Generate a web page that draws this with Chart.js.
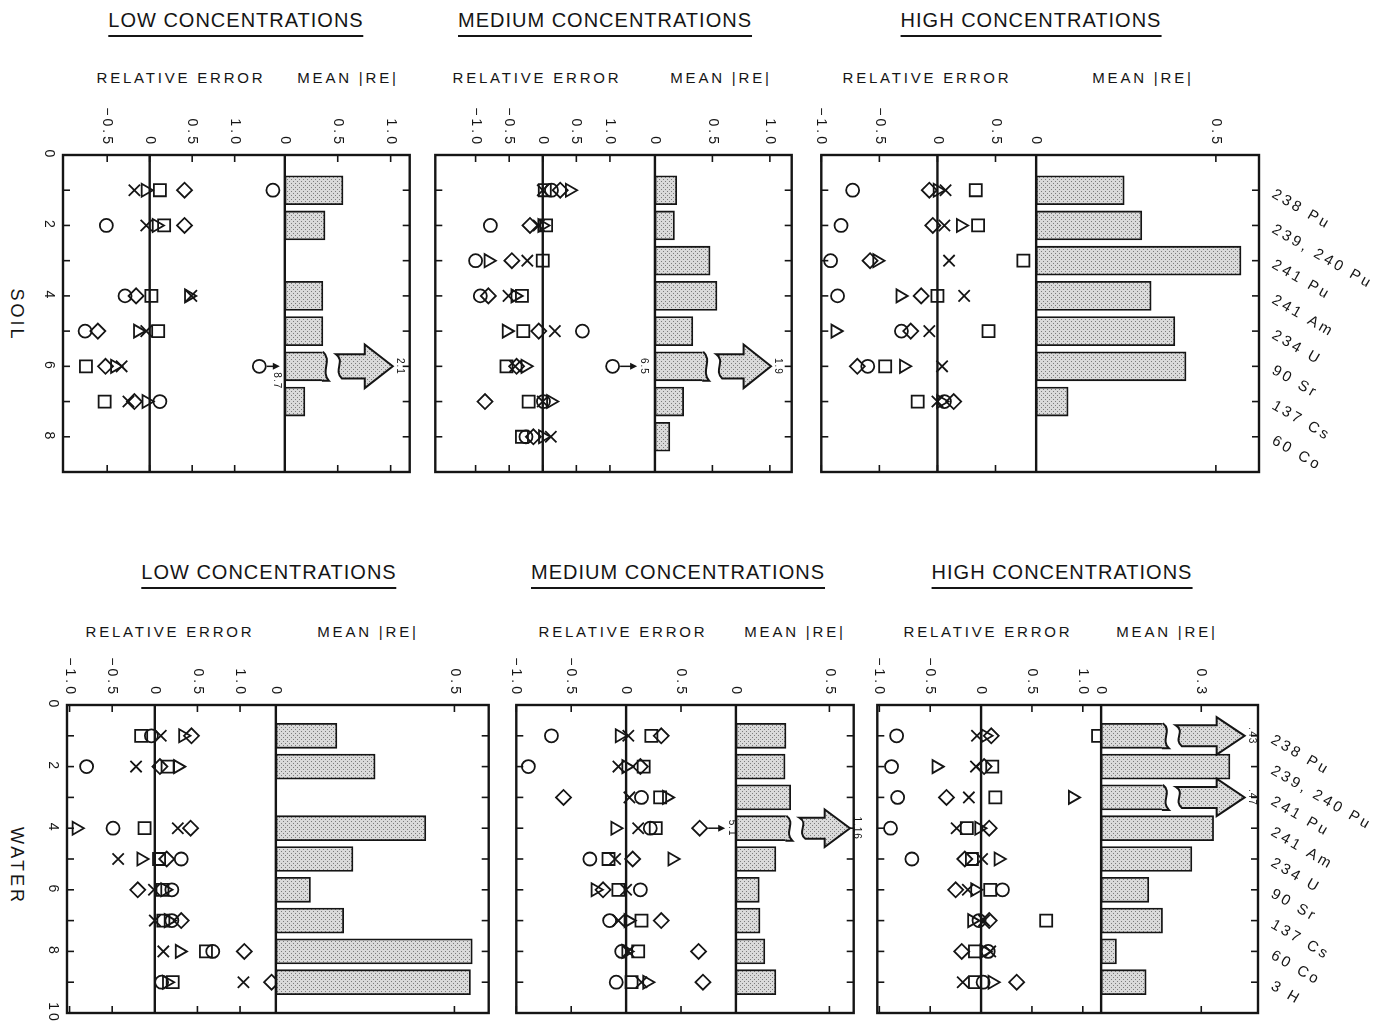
<!DOCTYPE html>
<html>
<head>
<meta charset="utf-8">
<title>Relative error of laboratory results</title>
<script src="https://cdn.jsdelivr.net/npm/chart.js@4.4.1/dist/chart.umd.min.js"></script>
<style>
  body { margin: 0; background: #fff; }
  #wrap { position: relative; width: 1387px; height: 1030px; overflow: hidden;
          font-family: "Liberation Sans", Arial, sans-serif; color: #151515; }
  #wrap canvas { position: absolute; }
  .title { position: absolute; transform: translateX(-50%); font-size: 20px; letter-spacing: 1px;
           line-height: 22px; padding-bottom: 4px; border-bottom: 2px solid #151515; white-space: nowrap; }
  .sub { position: absolute; transform: translate(-50%, -50%); font-size: 15px; letter-spacing: 2.8px; white-space: nowrap; }
  .side { position: absolute; transform: translate(-50%, -50%) rotate(90deg); font-size: 18px;
          letter-spacing: 3px; white-space: nowrap; }
</style>
</head>
<body>
<div id="wrap">
  <div class="title" style="left:236px;top:9px">LOW CONCENTRATIONS</div>
  <div class="title" style="left:605px;top:9px">MEDIUM CONCENTRATIONS</div>
  <div class="title" style="left:1031px;top:9px">HIGH CONCENTRATIONS</div>
  <div class="title" style="left:269px;top:561px">LOW CONCENTRATIONS</div>
  <div class="title" style="left:678px;top:561px">MEDIUM CONCENTRATIONS</div>
  <div class="title" style="left:1062px;top:561px">HIGH CONCENTRATIONS</div>

  <div class="sub" style="left:181px;top:77px">RELATIVE ERROR</div>
  <div class="sub" style="left:348px;top:77px">MEAN |RE|</div>
  <div class="sub" style="left:537px;top:77px">RELATIVE ERROR</div>
  <div class="sub" style="left:721px;top:77px">MEAN |RE|</div>
  <div class="sub" style="left:927px;top:77px">RELATIVE ERROR</div>
  <div class="sub" style="left:1143px;top:77px">MEAN |RE|</div>
  <div class="sub" style="left:170px;top:631px">RELATIVE ERROR</div>
  <div class="sub" style="left:368px;top:631px">MEAN |RE|</div>
  <div class="sub" style="left:623px;top:631px">RELATIVE ERROR</div>
  <div class="sub" style="left:795px;top:631px">MEAN |RE|</div>
  <div class="sub" style="left:988px;top:631px">RELATIVE ERROR</div>
  <div class="sub" style="left:1167px;top:631px">MEAN |RE|</div>

  <div class="side" style="left:16px;top:315px">SOIL</div>
  <div class="side" style="left:16px;top:866px">WATER</div>
</div>
<script>
const INK = '#151515';
const FONT = '"Liberation Sans", Arial, sans-serif';

// row labels
const soilNuclides = ['238 Pu', '239, 240 Pu', '241 Pu', '241 Am', '234 U', '90 Sr', '137 Cs', '60 Co'];
const waterNuclides = ['238 Pu', '239, 240 Pu', '241 Pu', '241 Am', '234 U', '90 Sr', '137 Cs', '60 Co', '3 H'];
const soilRowTicks = [0, 2, 4, 6, 8];
const waterRowTicks = [0, 2, 4, 6, 8, 10];

// SOIL, low concentrations
const soilLowReTicks = [-0.5, 0, 0.5, 1.0];
const soilLowMeanTicks = [0, 0.5, 1.0];
const soilLowMean = [0.55, 0.38, null, 0.36, 0.36, 2.1, 0.19, null];
const soilLowCircle = [1.45, -0.51, null, -0.29, -0.76, 8.7, 0.12, null];
const soilLowDiamond = [0.41, 0.41, null, -0.16, -0.61, -0.52, -0.18, null];
const soilLowCross = [-0.18, -0.04, null, 0.49, -0.04, -0.33, -0.25, null];
const soilLowSquare = [0.12, 0.17, null, 0.02, 0.10, -0.75, -0.53, null];
const soilLowTriangle = [-0.05, 0.08, null, 0.46, -0.14, -0.41, -0.04, null];

// SOIL, medium concentrations
const soilMedReTicks = [-1.0, -0.5, 0, 0.5, 1.0];
const soilMedMeanTicks = [0, 0.5, 1.0];
const soilMedMean = [0.19, 0.17, 0.48, 0.54, 0.33, 1.9, 0.25, 0.13];
const soilMedCircle = [0.13, -0.78, -1.0, -0.93, 0.59, 6.5, 0.01, -0.25];
const soilMedDiamond = [0.26, -0.19, -0.46, -0.81, -0.06, -0.39, -0.86, -0.14];
const soilMedCross = [0.0, -0.06, -0.23, -0.51, 0.18, -0.41, 0.0, 0.12];
const soilMedSquare = [0.03, 0.05, 0.0, -0.31, -0.29, -0.54, -0.21, -0.31];
const soilMedTriangle = [0.40, -0.01, -0.81, -0.41, -0.54, -0.26, 0.12, 0.0];

// SOIL, high concentrations
const soilHighReTicks = [-1.0, -0.5, 0, 0.5];
const soilHighMeanTicks = [0, 0.5];
const soilHighMean = [0.245, 0.294, 0.57, 0.32, 0.386, 0.417, 0.089, null];
const soilHighCircle = [-0.73, -0.83, -0.92, -0.86, -0.31, -0.60, 0.06, null];
const soilHighDiamond = [-0.07, -0.04, -0.58, -0.14, -0.23, -0.69, 0.14, null];
const soilHighCross = [0.07, 0.06, 0.10, 0.23, -0.07, 0.04, 0.0, null];
const soilHighSquare = [0.33, 0.35, 0.74, 0.0, 0.44, -0.45, -0.17, null];
const soilHighTriangle = [0.0, 0.20, -0.52, -0.32, -0.88, -0.29, 0.03, null];

// WATER, low concentrations
const waterLowReTicks = [-1.0, -0.5, 0, 0.5, 1.0];
const waterLowMeanTicks = [0, 0.5];
const waterLowMean = [0.171, 0.278, null, 0.42, 0.216, 0.097, 0.19, 0.55, 0.545];
const waterLowCircle = [-0.04, -0.80, null, -0.49, 0.31, 0.20, 0.20, 0.68, 0.08];
const waterLowDiamond = [0.43, 0.06, null, 0.42, 0.14, -0.20, 0.31, 1.05, 1.37];
const waterLowCross = [0.07, -0.22, null, 0.27, -0.43, -0.01, 0.0, 0.10, 1.04];
const waterLowSquare = [-0.16, 0.15, null, -0.12, 0.05, 0.09, 0.10, 0.60, 0.21];
const waterLowTriangle = [0.33, 0.27, null, -0.92, -0.16, 0.12, 0.16, 0.29, 0.14];

// WATER, medium concentrations
const waterMedReTicks = [-1.0, -0.5, 0, 0.5];
const waterMedMeanTicks = [0, 0.5];
const waterMedMean = [0.268, 0.263, 0.293, 1.16, 0.214, 0.125, 0.129, 0.155, 0.214];
const waterMedCircle = [-0.68, -0.89, 0.14, 0.22, -0.33, 0.13, -0.15, -0.04, -0.09];
const waterMedDiamond = [0.32, 0.13, -0.57, 5.1, 0.06, -0.21, 0.32, 0.66, 0.70];
const waterMedCross = [0.02, -0.07, 0.03, 0.11, -0.10, 0.0, -0.07, 0.02, 0.14];
const waterMedSquare = [0.23, 0.16, 0.31, 0.27, -0.16, -0.07, 0.14, 0.11, 0.05];
const waterMedTriangle = [-0.06, 0.0, 0.37, -0.10, 0.42, -0.28, 0.02, 0.0, 0.19];

// WATER, high concentrations
const waterHighReTicks = [-1.0, -0.5, 0, 0.5, 1.0];
const waterHighMeanTicks = [0, 0.3];
const waterHighMean = [0.43, 0.386, 0.47, 0.337, 0.272, 0.143, 0.184, 0.046, 0.135];
const waterHighCircle = [-0.83, -0.88, -0.82, -0.89, -0.68, 0.21, -0.02, 0.07, 0.02];
const waterHighDiamond = [0.10, 0.03, -0.34, 0.08, -0.16, -0.25, 0.08, -0.19, 0.35];
const waterHighCross = [-0.04, -0.05, -0.12, -0.24, 0.01, -0.13, 0.03, 0.09, -0.18];
const waterHighSquare = [1.15, 0.11, 0.14, -0.14, -0.09, 0.09, 0.64, -0.06, -0.06];
const waterHighTriangle = [0.04, -0.44, 0.90, -0.02, 0.17, -0.06, -0.09, 0.03, 0.11];

// one symbol per laboratory
const markers = [
  { key: 'circle', style: 'circle', radius: 6.5, rotation: 0 },
  { key: 'diamond', style: 'rectRot', radius: 7.5, rotation: 0 },
  { key: 'cross', style: 'crossRot', radius: 8, rotation: 0 },
  { key: 'square', style: 'rect', radius: 8.5, rotation: 0 },
  { key: 'triangle', style: 'triangle', radius: 7.5, rotation: 90 },
];

// frame = [left, top, right, bottom] in page pixels, divider = where MEAN |RE| starts
const panels = [
  { frame: [63, 155, 410, 472], divider: 285, reRange: [-1.02, 1.59], meanRange: [0, 1.18], rows: 9,
    reTicks: soilLowReTicks, meanTicks: soilLowMeanTicks, rowTicks: soilRowTicks, nuclides: null,
    mean: soilLowMean, circle: soilLowCircle, diamond: soilLowDiamond, cross: soilLowCross,
    square: soilLowSquare, triangle: soilLowTriangle,
    offCap: 1.29, offLabelBelow: true, breakAbove: 1.18, meanCap: 0.36, arrowEnd: 1.02 },
  { frame: [435, 155, 792, 472], divider: 655, reRange: [-1.6, 1.67], meanRange: [0, 1.19], rows: 9,
    reTicks: soilMedReTicks, meanTicks: soilMedMeanTicks, rowTicks: null, nuclides: null,
    mean: soilMedMean, circle: soilMedCircle, diamond: soilMedDiamond, cross: soilMedCross,
    square: soilMedSquare, triangle: soilMedTriangle,
    offCap: 1.04, offLabelBelow: false, breakAbove: 1.19, meanCap: 0.42, arrowEnd: 1.01 },
  { frame: [821, 155, 1259, 472], divider: 1036, reRange: [-1.0, 0.85], meanRange: [0, 0.62], rows: 9,
    reTicks: soilHighReTicks, meanTicks: soilHighMeanTicks, rowTicks: null, nuclides: soilNuclides,
    mean: soilHighMean, circle: soilHighCircle, diamond: soilHighDiamond, cross: soilHighCross,
    square: soilHighSquare, triangle: soilHighTriangle,
    offCap: 0.8, offLabelBelow: false, breakAbove: 0.62, meanCap: 0.4, arrowEnd: 0.6 },
  { frame: [67, 705, 489, 1013], divider: 276, reRange: [-1.03, 1.42], meanRange: [0, 0.596], rows: 10,
    reTicks: waterLowReTicks, meanTicks: waterLowMeanTicks, rowTicks: waterRowTicks, nuclides: null,
    mean: waterLowMean, circle: waterLowCircle, diamond: waterLowDiamond, cross: waterLowCross,
    square: waterLowSquare, triangle: waterLowTriangle,
    offCap: 1.3, offLabelBelow: false, breakAbove: 0.596, meanCap: 0.4, arrowEnd: 0.58 },
  { frame: [516, 705, 854, 1013], divider: 736, reRange: [-1.0, 1.0], meanRange: [0, 0.63], rows: 10,
    reTicks: waterMedReTicks, meanTicks: waterMedMeanTicks, rowTicks: null, nuclides: null,
    mean: waterMedMean, circle: waterMedCircle, diamond: waterMedDiamond, cross: waterMedCross,
    square: waterMedSquare, triangle: waterMedTriangle,
    offCap: 0.67, offLabelBelow: false, breakAbove: 0.63, meanCap: 0.27, arrowEnd: 0.61 },
  { frame: [877, 705, 1258, 1013], divider: 1101, reRange: [-1.02, 1.18], meanRange: [0, 0.47], rows: 10,
    reTicks: waterHighReTicks, meanTicks: waterHighMeanTicks, rowTicks: null, nuclides: waterNuclides,
    mean: waterHighMean, circle: waterHighCircle, diamond: waterHighDiamond, cross: waterHighCross,
    square: waterHighSquare, triangle: waterHighTriangle,
    offCap: 1.1, offLabelBelow: false, breakAbove: 0.40, meanCap: 0.185, arrowEnd: 0.43 },
];

// dotted grey screen used for the bars
function stipple(ctx) {
  const c = document.createElement('canvas');
  c.width = 4; c.height = 4;
  const g = c.getContext('2d');
  g.fillStyle = '#dadada';
  g.fillRect(0, 0, 4, 4);
  g.fillStyle = '#7c7c7c';
  g.fillRect(0, 0, 1, 1);
  g.fillRect(2, 2, 1, 1);
  return ctx.createPattern(c, 'repeat');
}

function fmtTick(v) {
  if (v === 0) return '0';
  return (v < 0 ? '\u2212' : '') + Math.abs(v).toFixed(1);
}

function fmtBig(v) {
  return v < 1 ? String(v).replace(/^0/, '') : String(v);
}

// text turned a quarter turn clockwise
function vText(ctx, s, x, y, align) {
  ctx.save();
  ctx.translate(x, y);
  ctx.rotate(Math.PI / 2);
  ctx.textAlign = align;
  ctx.textBaseline = 'middle';
  ctx.fillText(s, 0, 0);
  ctx.restore();
}

function line(ctx, x1, y1, x2, y2) {
  ctx.beginPath();
  ctx.moveTo(x1, y1);
  ctx.lineTo(x2, y2);
  ctx.stroke();
}

function makeDecor(p, pattern) {
  return {
    id: 'decor',
    beforeDatasetsDraw(chart) {
      const { ctx, chartArea: a, scales: { xre, xm } } = chart;
      ctx.save();
      ctx.strokeStyle = INK;
      ctx.lineWidth = 2.4;
      line(ctx, xre.getPixelForValue(0), a.top, xre.getPixelForValue(0), a.bottom);
      line(ctx, xm.getPixelForValue(0), a.top, xm.getPixelForValue(0), a.bottom);
      ctx.restore();
    },
    afterDatasetsDraw(chart) {
      const { ctx, chartArea: a, scales: { xre, xm, y } } = chart;
      ctx.save();
      ctx.strokeStyle = INK;
      ctx.fillStyle = INK;
      ctx.lineWidth = 2.4;
      ctx.strokeRect(a.left, a.top, a.right - a.left, a.bottom - a.top);

      // inward tick marks on all four sides
      ctx.lineWidth = 1.6;
      [[xre, p.reTicks], [xm, p.meanTicks]].forEach(([s, vals]) => vals.forEach(v => {
        const x = s.getPixelForValue(v);
        line(ctx, x, a.top, x, a.top + 7);
        line(ctx, x, a.bottom, x, a.bottom - 7);
      }));
      for (let r = 1; r < p.rows; r++) {
        const yy = y.getPixelForValue(r);
        line(ctx, a.left, yy, a.left + 7, yy);
        line(ctx, a.right, yy, a.right - 7, yy);
      }

      // tick labels
      ctx.font = '14px ' + FONT;
      ctx.letterSpacing = '3px';
      [[xre, p.reTicks], [xm, p.meanTicks]].forEach(([s, vals]) => vals.forEach(v => {
        vText(ctx, fmtTick(v), s.getPixelForValue(v), a.top - 8, 'right');
      }));
      if (p.rowTicks) {
        p.rowTicks.forEach(v => vText(ctx, String(v), a.left - 14, y.getPixelForValue(v), 'center'));
      }

      // broken bars: wavy end plus an arrow carrying the value
      const meta = chart.getDatasetMeta(0);
      const barData = chart.data.datasets[0].data;
      meta.data.forEach((el, j) => {
        const v = barData[j].v;
        if (v <= p.breakAbove) return;
        const yc = el.y;
        const h = el.height, top = yc - h / 2, bot = yc + h / 2, x = el.x;
        ctx.lineWidth = 2;
        ctx.fillStyle = pattern;
        ctx.beginPath();
        ctx.moveTo(x - 1, top);
        ctx.bezierCurveTo(x + 10, top + 0.3 * h, x - 3, top + 0.65 * h, x + 6, bot);
        ctx.lineTo(x - 1, bot);
        ctx.closePath();
        ctx.fill();
        ctx.beginPath();
        ctx.moveTo(x, top);
        ctx.bezierCurveTo(x + 10, top + 0.3 * h, x - 3, top + 0.65 * h, x + 6, bot);
        ctx.lineTo(x - 1, bot);
        ctx.stroke();

        const xs = x + 13, xe = xm.getPixelForValue(p.arrowEnd);
        const sh = 0.42 * h, hh = 0.75 * h, hl = Math.min(28, 0.5 * (xe - xs));
        ctx.beginPath();
        ctx.moveTo(xs, yc - sh);
        ctx.lineTo(xe - hl, yc - sh);
        ctx.lineTo(xe - hl, yc - hh);
        ctx.lineTo(xe, yc);
        ctx.lineTo(xe - hl, yc + hh);
        ctx.lineTo(xe - hl, yc + sh);
        ctx.lineTo(xs + 6, yc + sh);
        ctx.bezierCurveTo(xs - 3, yc + sh - 0.7 * sh, xs + 10, yc - sh + 0.6 * sh, xs, yc - sh);
        ctx.closePath();
        ctx.fill();
        ctx.stroke();
        ctx.fillStyle = INK;
        ctx.font = '10px ' + FONT;
        ctx.letterSpacing = '1px';
        vText(ctx, fmtBig(v), xe + 7, yc, 'center');
      });

      // off-scale relative errors
      markers.forEach(m => p[m.key].forEach((v, i) => {
        if (v == null || v <= p.reRange[1]) return;
        const px = xre.getPixelForValue(p.offCap) + m.radius + 1;
        const py = y.getPixelForValue(i + 1);
        const tip = px + (p.offLabelBelow ? 13 : 17);
        ctx.lineWidth = 1.5;
        ctx.fillStyle = INK;
        line(ctx, px, py, tip - 5, py);
        ctx.beginPath();
        ctx.moveTo(tip, py);
        ctx.lineTo(tip - 7, py - 3.5);
        ctx.lineTo(tip - 7, py + 3.5);
        ctx.closePath();
        ctx.fill();
        ctx.font = '10px ' + FONT;
        ctx.letterSpacing = '1px';
        if (p.offLabelBelow) vText(ctx, String(v), tip - 3, py + 6, 'left');
        else vText(ctx, String(v), tip + 7, py, 'center');
      }));

      // nuclide names on the right
      if (p.nuclides) {
        ctx.fillStyle = INK;
        ctx.font = '15px ' + FONT;
        ctx.letterSpacing = '3px';
        ctx.textAlign = 'left';
        ctx.textBaseline = 'middle';
        p.nuclides.forEach((s, i) => {
          ctx.save();
          ctx.translate(a.right + 14, y.getPixelForValue(i + 1) + 3);
          ctx.rotate(30 * Math.PI / 180);
          ctx.fillText(s, 0, 0);
          ctx.restore();
        });
      }
      ctx.restore();
    }
  };
}

const wrap = document.getElementById('wrap');

panels.forEach(p => {
  const [fl, ft, fr, fb] = p.frame;
  const padL = p.rowTicks ? 34 : 10;
  const padR = p.nuclides ? 1387 - fr : 10;
  const padT = 62, padB = 14;

  const cv = document.createElement('canvas');
  cv.width = fr - fl + padL + padR;
  cv.height = fb - ft + padT + padB;
  cv.style.left = (fl - padL) + 'px';
  cv.style.top = (ft - padT) + 'px';
  wrap.appendChild(cv);
  const ctx = cv.getContext('2d');
  const pattern = stipple(ctx);

  // ungrouped so each bar sits centred on its row
  const datasets = [{
    type: 'bar',
    indexAxis: 'y',
    xAxisID: 'xm',
    yAxisID: 'y',
    data: p.mean.map((v, i) => v == null ? null
      : { x: v > p.breakAbove ? p.meanCap : v, y: i + 1, v: v }).filter(Boolean),
    backgroundColor: pattern,
    borderColor: INK,
    borderWidth: 1.8,
    borderSkipped: c => (c.raw && c.raw.v > p.breakAbove) ? 'right' : false,
    grouped: false,
    categoryPercentage: 1,
    barPercentage: 1,
    maxBarThickness: Math.round((fb - ft) / p.rows * 0.82),
  }];

  markers.forEach(m => {
    datasets.push({
      type: 'scatter',
      label: m.key,
      xAxisID: 'xre',
      yAxisID: 'y',
      data: p[m.key].map((v, i) => v == null ? null
        : { x: v > p.reRange[1] ? p.offCap : v, y: i + 1 }).filter(Boolean),
      pointStyle: m.style,
      pointRadius: m.radius,
      pointRotation: m.rotation,
      pointBorderColor: INK,
      pointBackgroundColor: 'rgba(0,0,0,0)',
      pointBorderWidth: 1.8,
      showLine: false,
    });
  });

  const hideGrid = { grid: { display: false }, border: { display: false } };

  // top boxes are laid out last-defined first, so the mean axis is listed before the error axis
  new Chart(ctx, {
    type: 'scatter',
    data: { datasets },
    options: {
      responsive: false,
      animation: false,
      events: [],
      layout: { padding: { left: 0, top: 0, right: padR, bottom: padB } },
      plugins: { legend: { display: false }, tooltip: { enabled: false } },
      scales: {
        xm: Object.assign({
          type: 'linear', position: 'top', stack: 'top', stackWeight: fr - p.divider,
          min: p.meanRange[0], max: p.meanRange[1], ticks: { display: false },
          afterFit: s => { s.height = padT; },
        }, hideGrid),
        xre: Object.assign({
          type: 'linear', position: 'top', stack: 'top', stackWeight: p.divider - fl,
          min: p.reRange[0], max: p.reRange[1], ticks: { display: false },
          afterFit: s => { s.height = padT; },
        }, hideGrid),
        y: Object.assign({
          type: 'linear', position: 'left', reverse: true, offset: false,
          min: 0, max: p.rows, ticks: { display: false, stepSize: 1 },
          afterFit: s => { s.width = padL; },
        }, hideGrid),
      },
    },
    plugins: [makeDecor(p, pattern)],
  });
});
</script>
</body>
</html>
